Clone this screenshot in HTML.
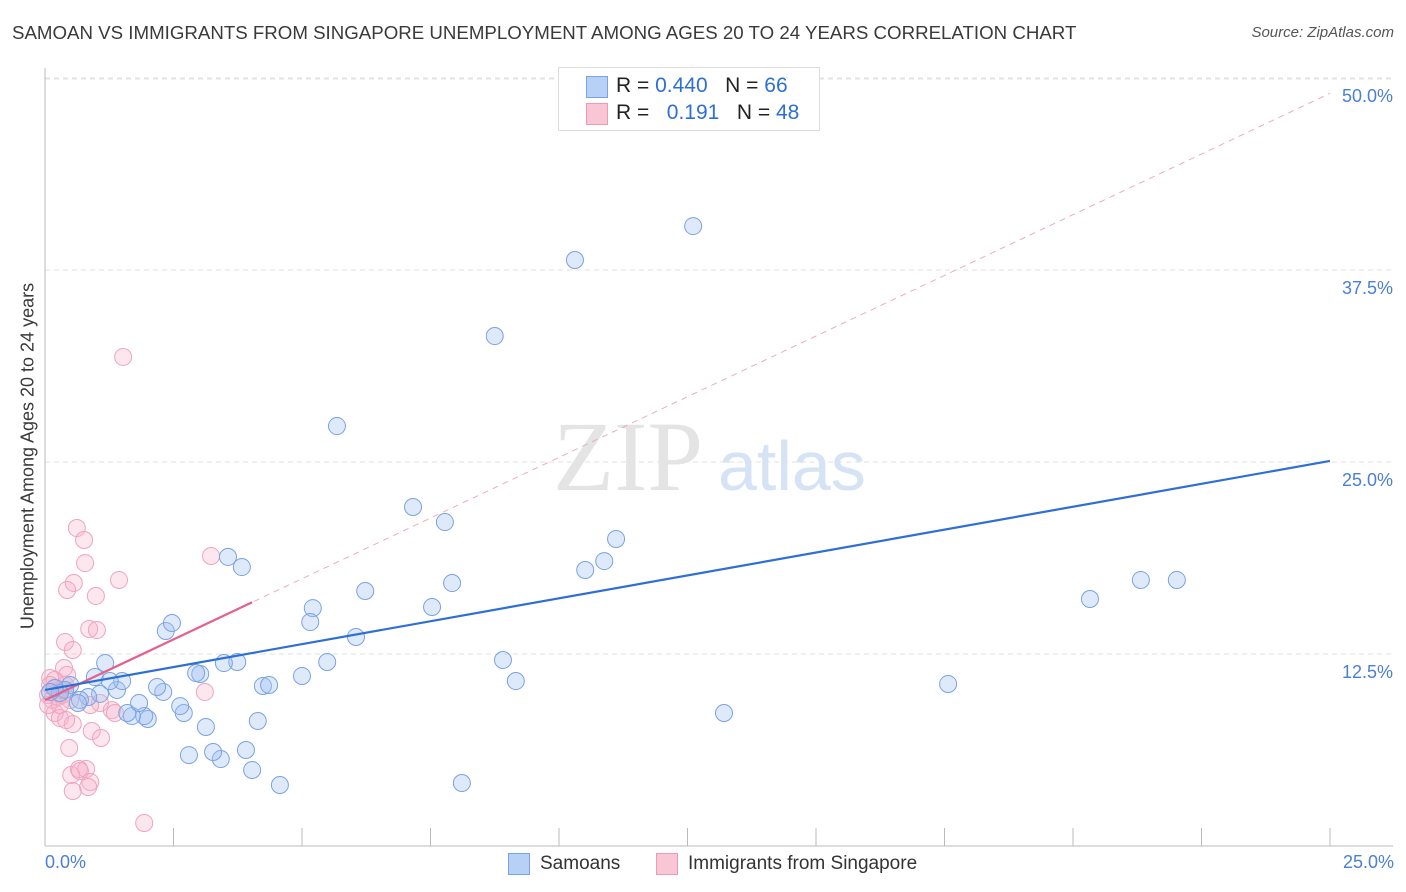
<!DOCTYPE html>
<html><head><meta charset="utf-8">
<style>
body{margin:0;background:#fff;font-family:"Liberation Sans",sans-serif;}
#wrap{position:relative;width:1406px;height:892px;overflow:hidden;}
.t{position:absolute;white-space:nowrap;}
</style></head>
<body>
<div id="wrap">
<div class="t" style="left:12px;top:22px;font-size:18.7px;color:#3a3a3a;">SAMOAN VS IMMIGRANTS FROM SINGAPORE UNEMPLOYMENT AMONG AGES 20 TO 24 YEARS CORRELATION CHART</div>
<div class="t" style="right:12px;top:24px;font-size:15px;color:#555;font-style:italic;">Source: ZipAtlas.com</div>
<svg id="chart" width="1406" height="892" style="position:absolute;left:0;top:0"></svg>
</div>
<script>
const xTicks=[0,2.5,5,7.5,10,12.5,15,17.5,20,22.5,25];
const yTicks=[12.5,25,37.5,50];
const yTickLabels=["12.5%","25.0%","37.5%","50.0%"];
const blueX=[12.61,10.31,8.75,5.68,7.16,7.78,11.11,10.88,10.51,3.56,3.83,6.23,7.92,7.53,5.21,5.16,2.35,2.47,6.05,20.33,21.32,22.02,8.91,9.16,17.57,13.21,8.11,4.57,4.03,3.42,3.27,2.8,3.91,3.13,4.14,2.7,2.63,2.0,1.93,1.69,1.6,1.83,2.3,2.18,1.4,1.5,1.17,0.97,1.26,1.07,0.84,0.68,0.49,0.39,0.29,0.19,0.1,3.74,3.48,3.02,2.94,4.24,4.36,5.0,5.49,0.64];
const blueY=[40.36,38.15,33.2,27.34,22.07,21.09,19.99,18.55,17.97,18.82,18.16,16.6,17.12,15.56,15.49,14.58,14.0,14.52,13.61,16.08,17.32,17.32,12.11,10.74,10.55,8.66,4.1,3.97,4.95,5.66,6.12,5.92,6.25,7.75,8.14,8.66,9.11,8.27,8.46,8.46,8.66,9.31,10.03,10.35,10.16,10.74,11.91,11.0,10.74,9.9,9.7,9.51,10.48,10.16,9.96,10.29,10.03,11.98,11.91,11.2,11.26,10.42,10.48,11.07,11.98,9.31];
const pinkX=[1.52,0.62,0.76,3.23,0.78,1.44,0.56,0.43,0.99,0.86,1.01,0.39,0.54,0.37,0.43,0.1,0.19,0.29,0.06,0.14,0.25,0.39,3.11,1.07,1.3,1.36,0.19,0.29,0.54,0.91,1.09,0.47,0.51,0.66,0.8,0.68,0.88,0.84,0.54,1.93,0.06,0.19,0.33,0.49,0.88,0.29,0.1,0.41];
const pinkY=[31.84,20.7,19.92,18.88,18.42,17.32,17.12,16.67,16.28,14.13,14.06,13.28,12.76,11.59,11.13,10.94,10.29,10.16,9.83,9.51,9.7,10.48,10.03,9.31,8.85,8.66,8.66,8.33,7.94,7.49,7.03,6.38,4.62,5.01,5.01,4.88,4.17,3.84,3.58,1.5,9.18,10.81,9.83,9.51,9.18,9.18,10.48,8.2];
const blueTrend=[10.16,25.07];
const pinkTrend=[9.5,49.0];
const pinkSolidEnd=4.03;

const NS="http://www.w3.org/2000/svg";
const svg=document.getElementById('chart');
const X0=45,X1=1330,Y0=846,YPER=192/12.5;
const sx=v=>X0+v*(X1-X0)/25;
const sy=v=>Y0-v*YPER;
function mk(tag,attrs,parent){const e=document.createElementNS(NS,tag);for(const k in attrs)e.setAttribute(k,attrs[k]);(parent||svg).appendChild(e);return e;}

yTicks.forEach((v,i)=>{
  const g=mk('line',{x1:X0,x2:1393,y1:sy(v),y2:sy(v),stroke:'#e2e2e2','stroke-dasharray':'5,4'});
  
  
  const t=mk('text',{x:1393,y:sy(v)+24,'text-anchor':'end','font-size':18,fill:'#4a7fd6','font-family':'Liberation Sans, sans-serif'});
  t.textContent=yTickLabels[i];
  
  
});
const tg=mk('line',{x1:X0,x2:1393,y1:79,y2:79,stroke:'#e2e2e2','stroke-dasharray':'5,4'});


const ya=mk('line',{x1:X0,x2:X0,y1:68,y2:Y0,stroke:'#bbb'});


const xa=mk('line',{x1:X0,x2:1393,y1:Y0,y2:Y0,stroke:'#bbb'});


xTicks.forEach(v=>{if(v===0)return;
  const l=mk('line',{x1:sx(v),x2:sx(v),y1:828,y2:Y0,stroke:'#bbb'});
  
  
});
const w1=mk('text',{x:553,y:490,'font-size':100,fill:'#e4e4e4','font-family':'Liberation Serif, serif'});w1.textContent='ZIP';


const w2=mk('text',{x:718,y:490,'font-size':70,fill:'#d6e3f5','font-family':'Liberation Sans, sans-serif'});w2.textContent='atlas';



function pts(xs,ys,fill,stroke,name){xs.forEach((x,i)=>{
  const c=mk('circle',{cx:sx(x),cy:sy(ys[i]),r:8.5,fill:fill,stroke:stroke,'stroke-width':1});
  
  
});}
pts(pinkX,pinkY,'rgba(248,175,200,0.3)','#f0a3bd','singapore-point');
pts(blueX,blueY,'rgba(160,192,240,0.35)','#7aa3e2','samoan-point');

const pd=mk('line',{x1:sx(0),y1:sy(pinkTrend[0]),x2:sx(25),y2:sy(pinkTrend[1]),stroke:'#eeaabf','stroke-width':1,'stroke-dasharray':'6,5'});


const ps=mk('line',{x1:sx(0),y1:sy(pinkTrend[0]),x2:sx(pinkSolidEnd),y2:sy(pinkTrend[0]+(pinkTrend[1]-pinkTrend[0])*pinkSolidEnd/25),stroke:'#e5608c','stroke-width':2.2});


const bl=mk('line',{x1:sx(0),y1:sy(blueTrend[0]),x2:sx(25),y2:sy(blueTrend[1]),stroke:'#2e6fd6','stroke-width':2.2});


</script>
<div class="t" style="left:28px;top:456px;transform:translate(-50%,-50%) rotate(-90deg);font-size:18px;color:#3a3a3a;">Unemployment Among Ages 20 to 24 years</div>
<div class="t" style="left:45px;top:852px;font-size:18px;color:#4a7fd6;">0.0%</div>
<div class="t" style="right:12px;top:852px;font-size:18px;color:#4a7fd6;">25.0%</div>
<div style="position:absolute;left:558px;top:67px;width:260px;height:62px;border:1px solid #ddd;background:#fff;font-size:21px;color:#222;">
 <div style="position:absolute;left:27px;top:8px;width:20px;height:20px;background:#b7d0f5;border:1px solid #79a3e6;"></div>
 <div class="t" style="left:57px;top:6px;">R = <span style="color:#2e6fd6">0.440</span>&nbsp;&nbsp;&nbsp;N = <span style="color:#2e6fd6">66</span></div>
 <div style="position:absolute;left:27px;top:35px;width:20px;height:20px;background:#f9c6d6;border:1px solid #ee9ab5;"></div>
 <div class="t" style="left:57px;top:33px;">R = &nbsp;&nbsp;<span style="color:#2e6fd6">0.191</span>&nbsp;&nbsp;&nbsp;N = <span style="color:#2e6fd6">48</span></div>
</div>
<div style="position:absolute;left:508px;top:853px;font-size:19px;color:#333;">
 <div style="position:absolute;left:0;top:0;width:20px;height:20px;background:#b7d0f5;border:1px solid #79a3e6;"></div>
 <div class="t" style="left:32px;top:0;">Samoans</div>
 <div style="position:absolute;left:148px;top:0;width:20px;height:20px;background:#f9c6d6;border:1px solid #ee9ab5;"></div>
 <div class="t" style="left:180px;top:0;">Immigrants from Singapore</div>
</div>
</body></html>
